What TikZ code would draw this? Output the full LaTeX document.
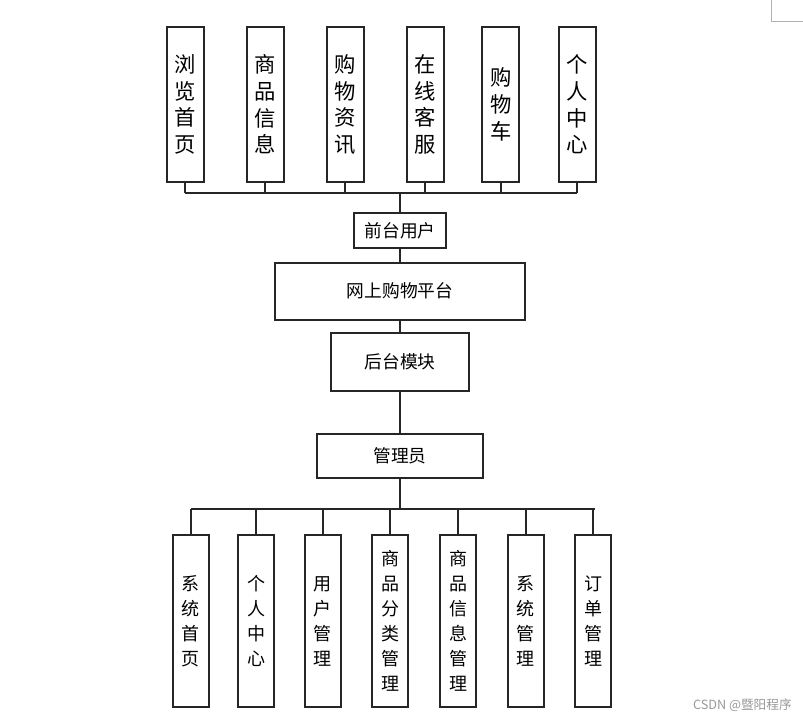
\documentclass[tikz,border=0pt]{standalone}
\usepackage{fontspec}
\newfontfamily\cjk{Noto Sans CJK SC}
\begin{document}
\begin{tikzpicture}[x=0.75pt,y=-0.75pt,
  box/.style={draw=black!85, line width=1.4pt, inner sep=0pt, align=center, fill=white},
  topbox/.style={box, minimum width=27.75pt, minimum height=116.7pt, font=\cjk\fontsize{16}{20}\selectfont},
  botbox/.style={box, minimum width=27pt, minimum height=129pt, font=\cjk\fontsize{13.5}{18.75}\selectfont},
  midbox/.style={box, font=\cjk\fontsize{13.3}{16}\selectfont},
  conn/.style={draw=black!85, line width=1.4pt}]
\useasboundingbox (0,0) rectangle (803,723);
\fill[white] (0,0) rectangle (803,723);
% corner artifact
\draw[black!30, line width=0.6pt] (771,0) -- (771,21) -- (803,21);

% top boxes
\node[topbox] (t1) at (185.3,104.5) {浏\\览\\首\\页};
\node[topbox] (t2) at (265.3,104.5) {商\\品\\信\\息};
\node[topbox] (t3) at (345.3,104.5) {购\\物\\资\\讯};
\node[topbox] (t4) at (425.3,104.5) {在\\线\\客\\服};
\node[topbox] (t5) at (500.8,104.5) {购\\物\\车};
\node[topbox] (t6) at (577.3,104.5) {个\\人\\中\\心};

% middle boxes
\node[midbox, minimum width=69pt, minimum height=26.6pt] (front) at (400,230.5) {前台用户};
\node[midbox, minimum width=187pt, minimum height=42.75pt] (plat) at (400,291.2) {网上购物平台};
\node[midbox, minimum width=103.7pt, minimum height=43.3pt] (back) at (400,361.9) {后台模块};
\node[midbox, minimum width=124pt, minimum height=33.2pt] (admin) at (400,456.2) {管理员};

% bottom boxes
\node[botbox] (b1) at (190.8,621.3) {系\\统\\首\\页};
\node[botbox] (b2) at (256.3,621.3) {个\\人\\中\\心};
\node[botbox] (b3) at (322.8,621.3) {用\\户\\管\\理};
\node[botbox] (b4) at (390.3,621.3) {商\\品\\分\\类\\管\\理};
\node[botbox] (b5) at (458,621.3) {商\\品\\信\\息\\管\\理};
\node[botbox] (b6) at (525.8,621.3) {系\\统\\管\\理};
\node[botbox] (b7) at (593,621.3) {订\\单\\管\\理};

% top bus
\coordinate (tb) at (400,192.7);
\foreach \n in {t1,t2,t3,t4,t5,t6}{
  \draw[conn] (\n.south) -- (\n.south |- tb);
}
\draw[conn] (t1.south |- tb) -- (t6.south |- tb);
\draw[conn] (tb) -- (front.north);
\draw[conn] (front.south) -- (plat.north);
\draw[conn] (plat.south) -- (back.north);
\draw[conn] (back.south) -- (admin.north);

% bottom bus
\coordinate (bb) at (400,509.3);
\draw[conn] (admin.south) -- (bb);
\foreach \n in {b1,b2,b3,b4,b5,b6,b7}{
  \draw[conn] (\n.north) -- (\n.north |- bb);
}
\draw[conn] (b1.north |- bb) -- (595,509.3);

% watermark
\node[text=black!40, font=\cjk\fontsize{9.5}{11}\selectfont, anchor=east, inner sep=0pt] (wm) at (792,705) {CSDN @暨阳程序};
\end{tikzpicture}
\end{document}
